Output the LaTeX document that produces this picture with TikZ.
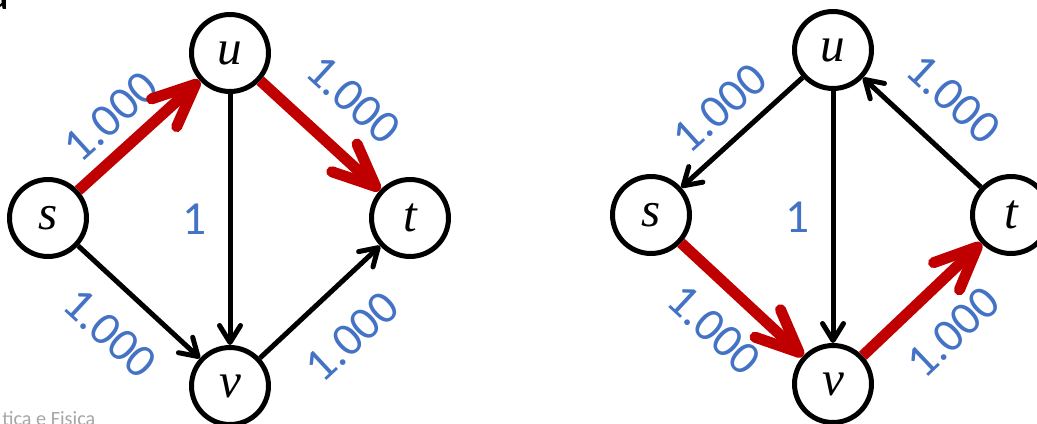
\documentclass[tikz,border=0pt]{standalone}
\usepackage{fontspec}
\setmainfont{Liberation Serif}
\newfontfamily\calibri{Carlito}
\usetikzlibrary{arrows.meta}
\definecolor{flowred}{HTML}{C00000}
\definecolor{capblue}{HTML}{4472C4}

\begin{document}
\begin{tikzpicture}[x=0.02cm, y=-0.02cm,
  vtx/.style={draw, circle, line width=1mm, minimum size=15.4mm, inner sep=0pt, font=\fontsize{28}{28}\selectfont\itshape},
  arr/.style={-{Straight Barb[length=3.4mm, width=4.2mm, round]}, line width=1mm},
  flow/.style={-{Straight Barb[length=8.5mm, width=7.5mm, round]}, line width=2.2mm, draw=flowred},
  lab/.style={font=\calibri\fontsize{27}{27}\selectfont, text=capblue, inner sep=0pt},
  elab/.style={lab, sloped}]
\useasboundingbox (0,0) rectangle (1037,423);
\clip (0,0) rectangle (1037,423);
% testo tagliato ai bordi
\node[anchor=base east, inner sep=0pt, font=\calibri\fontsize{30}{30}\selectfont] (frag) at (10,9) {a};
\node[anchor=base west, inner sep=0pt, text=gray!70, font=\calibri\fontsize{11.5}{11.5}\selectfont] (foot) at (2,425) {tica e Fisica};
% rete a sinistra
\node[vtx] (s1) at (48,218)  {s};
\node[vtx] (u1) at (230,53)  {u};
\node[vtx] (t1) at (410,218) {t};
\node[vtx] (v1) at (230,386) {v};
% rete a destra
\node[vtx] (s2) at (651,215)  {s};
\node[vtx] (u2) at (833,50)   {u};
\node[vtx] (t2) at (1011,215) {t};
\node[vtx] (v2) at (833,384)  {v};
% archi a sinistra
\path (s1) -- node[elab, above=3.4mm, pos=0.45] {1.000} (u1);
\draw[flow] (s1) -- (u1);
\draw[flow] (u1) -- node[elab, above=5.6mm] {1.000} (t1);
\draw[arr]  (s1) -- node[elab, below=4.9mm] {1.000} (v1);
\draw[arr]  (v1) -- node[elab, below=5.8mm] {1.000} (t1);
\draw[arr]  (u1) -- node[lab, left=4.2mm] {1} (v1);
% archi a destra
\draw[arr]  (u2) -- node[elab, above=3mm] {1.000} (s2);
\draw[arr]  (t2) -- node[elab, above=5.6mm] {1.000} (u2);
\draw[arr]  (u2) -- node[lab, left=4.2mm] {1} (v2);
\path (s2) -- node[elab, below=5mm] {1.000} (v2);
\draw[flow] (s2) -- (v2);
\path (v2) -- node[elab, below=5.8mm] {1.000} (t2);
\draw[flow] (v2) -- (t2);
\end{tikzpicture}
\end{document}
